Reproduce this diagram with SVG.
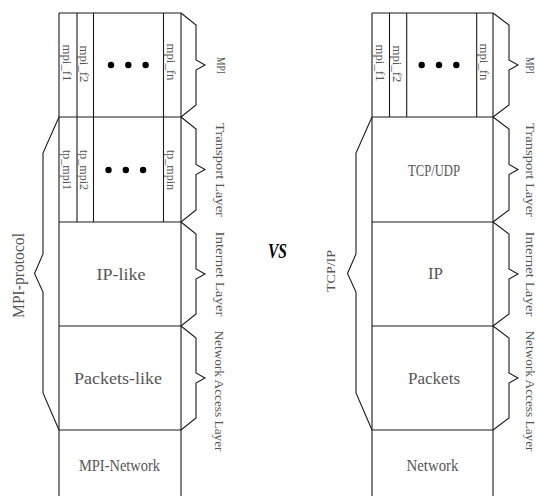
<svg xmlns="http://www.w3.org/2000/svg" width="537" height="496" viewBox="0 0 537 496">
<style>
.ln{fill:none;stroke:#1a1a1a;stroke-width:1.1}
.br{fill:none;stroke:#1a1a1a;stroke-width:1.1;stroke-linejoin:miter}
.s{font-family:"Liberation Serif",serif;font-size:13px;fill:#555}
.b{font-family:"Liberation Serif",serif;font-size:16px;fill:#555}
.dot{fill:#000}
</style>
<rect width="537" height="496" fill="#fff"/>
<defs>
<g id="dots"><circle cx="0" cy="0" r="3.2" class="dot"/><circle cx="17.3" cy="0" r="3.2" class="dot"/><circle cx="34.6" cy="0" r="3.2" class="dot"/></g>
</defs>

<g id="left-stack">
<path class="ln" d="M59,13 V496 M181,13 V496 M59,13 H181 M59,117 H181 M59,222 H181 M59,326 H181 M59,430 H181"/>
</g>
<g id="left-mpi">
<path class="ln" d="M77,13 V117 M93.5,13 V117 M163.5,13 V117"/>
<text class="s" text-anchor="middle" dominant-baseline="central" textLength="37" lengthAdjust="spacingAndGlyphs" transform="translate(67.5,63) rotate(90)">mpi_f1</text>
<text class="s" text-anchor="middle" dominant-baseline="central" textLength="37" lengthAdjust="spacingAndGlyphs" transform="translate(84,64) rotate(90)">mpi_f2</text>
<text class="s" text-anchor="middle" dominant-baseline="central" textLength="37" lengthAdjust="spacingAndGlyphs" transform="translate(171,62) rotate(90)">mpi_fn</text>
<use href="#dots" x="111" y="65"/>
</g>
<g id="left-transport">
<path class="ln" d="M77,117 V222 M93.5,117 V222 M163.5,117 V222"/>
<text class="s" text-anchor="middle" dominant-baseline="central" textLength="40" lengthAdjust="spacingAndGlyphs" transform="translate(67.5,170) rotate(90)">tp_mpi1</text>
<text class="s" text-anchor="middle" dominant-baseline="central" textLength="40" lengthAdjust="spacingAndGlyphs" transform="translate(84,170) rotate(90)">tp_mpi2</text>
<text class="s" text-anchor="middle" dominant-baseline="central" textLength="40" lengthAdjust="spacingAndGlyphs" transform="translate(171,170) rotate(90)">tp_mpin</text>
<use href="#dots" x="108.5" y="170"/>
</g>
<g id="left-ip"><text class="b" x="121" y="274" text-anchor="middle" dominant-baseline="central" textLength="49" lengthAdjust="spacingAndGlyphs">IP-like</text></g>
<g id="left-packets"><text class="b" x="118" y="378.5" text-anchor="middle" dominant-baseline="central" textLength="88" lengthAdjust="spacingAndGlyphs">Packets-like</text></g>
<g id="left-network"><text class="b" x="119.5" y="465" text-anchor="middle" dominant-baseline="central" textLength="81" lengthAdjust="spacingAndGlyphs">MPI-Network</text></g>

<g id="right-stack">
<path class="ln" d="M372,13 V496 M493,13 V496 M372,13 H493 M372,117 H493 M372,222 H493 M372,326 H493 M372,430 H493"/>
</g>
<g id="right-mpi">
<path class="ln" d="M389.5,13 V117 M406.7,13 V117 M476.7,13 V117"/>
<text class="s" text-anchor="middle" dominant-baseline="central" textLength="37" lengthAdjust="spacingAndGlyphs" transform="translate(380.5,63) rotate(90)">mpi_f1</text>
<text class="s" text-anchor="middle" dominant-baseline="central" textLength="37" lengthAdjust="spacingAndGlyphs" transform="translate(397,64) rotate(90)">mpi_f2</text>
<text class="s" text-anchor="middle" dominant-baseline="central" textLength="37" lengthAdjust="spacingAndGlyphs" transform="translate(484.5,62) rotate(90)">mpi_fn</text>
<use href="#dots" x="421.7" y="65"/>
</g>
<g id="right-tcp"><text class="b" x="434" y="170" text-anchor="middle" dominant-baseline="central" textLength="52" lengthAdjust="spacingAndGlyphs">TCP/UDP</text></g>
<g id="right-ip"><text class="b" x="435.5" y="273.5" text-anchor="middle" dominant-baseline="central" textLength="15" lengthAdjust="spacingAndGlyphs">IP</text></g>
<g id="right-packets"><text class="b" x="434" y="378.5" text-anchor="middle" dominant-baseline="central" textLength="52" lengthAdjust="spacingAndGlyphs">Packets</text></g>
<g id="right-network"><text class="b" x="432.5" y="465" text-anchor="middle" dominant-baseline="central" textLength="52" lengthAdjust="spacingAndGlyphs">Network</text></g>

<g id="connectors">
<path class="br" d="M181,13 L196,25 L196,60 L205,65 L196,70 L196,105 L181,117"/>
<path class="br" d="M181,117 L196,129 L196,164.5 L205,169.5 L196,174.5 L196,210 L181,222"/>
<path class="br" d="M181,222 L196,234 L196,269 L205,274 L196,279 L196,314 L181,326"/>
<path class="br" d="M181,326 L196,338 L196,373 L205,378 L196,383 L196,418 L181,430"/>
<path class="br" d="M59,117 L43,153 L43,254 L34.5,273.5 L43,292 L43,393 L59,430"/>
<path class="br" d="M493,13 L509,25 L509,60 L518,65 L509,70 L509,105 L493,117"/>
<path class="br" d="M493,117 L509,129 L509,164.5 L518,169.5 L509,174.5 L509,210 L493,222"/>
<path class="br" d="M493,222 L509,234 L509,269 L518,274 L509,279 L509,314 L493,326"/>
<path class="br" d="M493,326 L509,338 L509,373 L518,378 L509,383 L509,418 L493,430"/>
<path class="br" d="M372,117 L356,153 L356,254 L347.5,273.5 L356,292 L356,393 L372,430"/>
</g>

<g id="labels">
<text class="s" text-anchor="middle" dominant-baseline="central" textLength="17" lengthAdjust="spacingAndGlyphs" transform="translate(221,65.5) rotate(90)">MPI</text>
<text class="s" text-anchor="middle" dominant-baseline="central" textLength="94" lengthAdjust="spacingAndGlyphs" transform="translate(220,170) rotate(90)">Transport Layer</text>
<text class="s" text-anchor="middle" dominant-baseline="central" textLength="85" lengthAdjust="spacingAndGlyphs" transform="translate(220,274) rotate(90)">Internet Layer</text>
<text class="s" text-anchor="middle" dominant-baseline="central" textLength="121" lengthAdjust="spacingAndGlyphs" transform="translate(219,391) rotate(90)">Network Access Layer</text>
<text class="s" text-anchor="middle" dominant-baseline="central" textLength="17" lengthAdjust="spacingAndGlyphs" transform="translate(530,65.5) rotate(90)">MPI</text>
<text class="s" text-anchor="middle" dominant-baseline="central" textLength="94" lengthAdjust="spacingAndGlyphs" transform="translate(530,170) rotate(90)">Transport Layer</text>
<text class="s" text-anchor="middle" dominant-baseline="central" textLength="85" lengthAdjust="spacingAndGlyphs" transform="translate(530,274) rotate(90)">Internet Layer</text>
<text class="s" text-anchor="middle" dominant-baseline="central" textLength="121" lengthAdjust="spacingAndGlyphs" transform="translate(530,391) rotate(90)">Network Access Layer</text>
<text class="b" text-anchor="middle" dominant-baseline="central" textLength="85" lengthAdjust="spacingAndGlyphs" transform="translate(18.5,275.5) rotate(-90)">MPI-protocol</text>
<text class="s" text-anchor="middle" dominant-baseline="central" textLength="42" lengthAdjust="spacingAndGlyphs" transform="translate(330,271) rotate(-90)">TCP/IP</text>
<text x="277.5" y="258" text-anchor="middle" font-family="Liberation Serif, serif" font-weight="bold" font-style="italic" font-size="21" textLength="19" lengthAdjust="spacingAndGlyphs" fill="#000">VS</text>
</g>
</svg>
